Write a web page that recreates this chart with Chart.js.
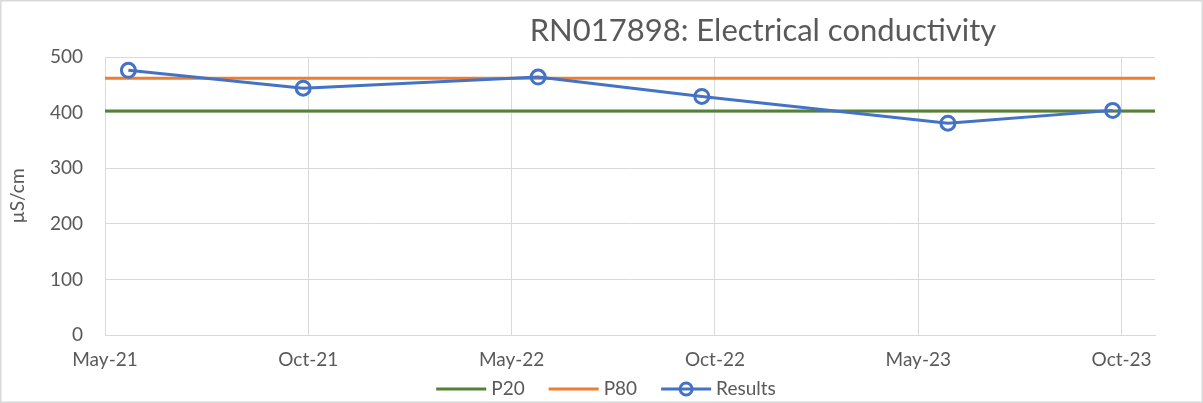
<!DOCTYPE html>
<html>
<head>
<meta charset="utf-8">
<script src="https://cdn.jsdelivr.net/npm/chart.js@4"></script>
<style>
  body { margin: 0; background: #fff; }
  #wrap { position: relative; width: 1203px; height: 403px; }
</style>
</head>
<body>
<div id="wrap"><canvas id="ecChart" width="1203" height="403"></canvas></div>
<script>
// chart data
const chartTitle = 'RN017898: Electrical conductivity';
const yAxisTitle = 'µS/cm';
const sampleDates = ['2021-05-22', '2021-10-26', '2022-05-25', '2022-10-19', '2023-05-28', '2023-10-23'];
const results = [476, 444, 464, 429, 381, 404];
const p20 = [403, 403];
const p80 = [462, 462];
const tickLabels = ['May-21', 'Oct-21', 'May-22', 'Oct-22', 'May-23', 'Oct-23'];
const axisStart = '2021-05-01';
const axisEnd = '2023-11-30';
const tickStepDays = 182.6;

const GREEN = '#548235';
const ORANGE = '#ED7D31';
const BLUE = '#4472C4';
const TEXT = '#595959';
const GRID = '#D9D9D9';
const FONT = 'Lato, "Liberation Sans", sans-serif';

const toDay = s => Date.parse(s) / 86400000;
const xMin = toDay(axisStart);
const xMax = toDay(axisEnd);

// title and outer border, Excel style
const frame = {
    id: 'frame',
    afterDraw(chart) {
        const c = chart.ctx;
        c.save();
        c.strokeStyle = GRID;
        c.lineWidth = 1.5;
        c.strokeRect(0.75, 0.75, chart.width - 1.5, chart.height - 1.5);

        c.fillStyle = TEXT;
        c.font = '30px ' + FONT;
        const w = c.measureText(chartTitle).width;
        const size = 30 * 467 / w;
        c.font = size.toFixed(1) + 'px ' + FONT;
        c.textAlign = 'center';
        c.textBaseline = 'middle';
        c.fillText(chartTitle, 763, 31);
        c.restore();
    }
};

// legend drawn by hand so the Results entry gets the line+circle symbol
const legendBar = {
    id: 'legendBar',
    afterDraw(chart) {
        const c = chart.ctx;
        const lineLen = 50, gap = 5, itemGap = 24, y = 389;
        c.save();
        c.font = '19px ' + FONT;
        c.textBaseline = 'middle';
        c.textAlign = 'left';
        const items = chart.data.datasets.map(ds => ({
            text: ds.label, color: ds.borderColor, marker: ds.pointRadius > 0
        }));
        const widths = items.map(it => lineLen + gap + c.measureText(it.text).width);
        const total = widths.reduce((a, b) => a + b, 0) + itemGap * (items.length - 1);
        let x = 606 - total / 2;
        items.forEach((it, i) => {
            c.strokeStyle = it.color;
            c.lineWidth = 3;
            c.beginPath();
            c.moveTo(x, y);
            c.lineTo(x + lineLen, y);
            c.stroke();
            if (it.marker) {
                c.beginPath();
                c.arc(x + lineLen / 2, y, 6, 0, Math.PI * 2);
                c.fillStyle = '#fff';
                c.fill();
                c.stroke();
                c.beginPath();
                c.moveTo(x + lineLen / 2 - 6, y);
                c.lineTo(x + lineLen / 2 + 6, y);
                c.stroke();
            }
            c.fillStyle = TEXT;
            c.fillText(it.text, x + lineLen + gap, y);
            x += widths[i] + itemGap;
        });
        c.restore();
    }
};

Chart.defaults.font.family = FONT;
Chart.defaults.color = TEXT;

new Chart(document.getElementById('ecChart'), {
    type: 'line',
    data: {
        datasets: [
            {
                label: 'P20',
                data: [{x: xMin, y: p20[0]}, {x: xMax, y: p20[1]}],
                borderColor: GREEN,
                borderWidth: 3,
                pointRadius: 0,
                order: 2
            },
            {
                label: 'P80',
                data: [{x: xMin, y: p80[0]}, {x: xMax, y: p80[1]}],
                borderColor: ORANGE,
                borderWidth: 3,
                pointRadius: 0,
                order: 1
            },
            {
                label: 'Results',
                data: sampleDates.map((d, i) => ({x: toDay(d), y: results[i]})),
                borderColor: BLUE,
                borderWidth: 3,
                pointRadius: 7,
                pointBorderWidth: 3,
                pointBorderColor: BLUE,
                pointBackgroundColor: 'rgba(0,0,0,0)',
                order: 0
            }
        ]
    },
    options: {
        responsive: false,
        animation: false,
        layout: { padding: { left: 0, top: 57, right: 48, bottom: 0 } },
        plugins: {
            legend: { display: false },
            tooltip: { enabled: false }
        },
        scales: {
            x: {
                type: 'linear',
                min: xMin,
                max: xMax,
                afterBuildTicks: axis => {
                    axis.ticks = tickLabels.map((l, i) => ({ value: xMin + i * tickStepDays }));
                },
                afterFit: s => { s.height = 68; },
                ticks: {
                    autoSkip: false,
                    maxRotation: 0,
                    padding: 13,
                    font: { size: 19 },
                    color: TEXT,
                    callback: (v, i) => tickLabels[i]
                },
                grid: { color: GRID, drawTicks: false },
                border: { color: GRID }
            },
            y: {
                min: 0,
                max: 500,
                ticks: {
                    stepSize: 100,
                    padding: 22,
                    font: { size: 19 },
                    color: TEXT
                },
                afterFit: s => { s.width = 105; },
                grid: { color: GRID, drawTicks: false },
                border: { color: GRID },
                title: {
                    display: true,
                    text: yAxisTitle,
                    color: TEXT,
                    font: { size: 19 },
                    padding: { top: 6, bottom: 0 }
                }
            }
        }
    },
    plugins: [frame, legendBar]
});
</script>
</body>
</html>
